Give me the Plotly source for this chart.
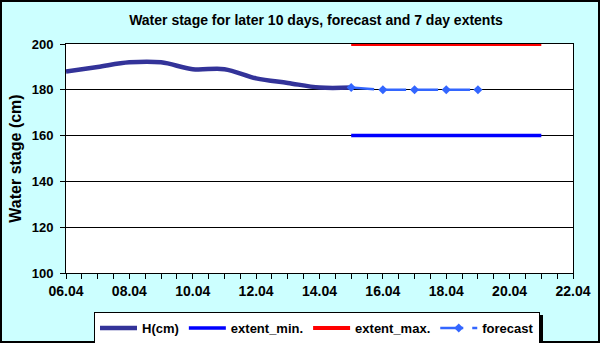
import plotly.graph_objects as go

# observed water stage, daily
h_days = ["2010-04-06", "2010-04-07", "2010-04-08", "2010-04-09", "2010-04-10",
          "2010-04-11", "2010-04-12", "2010-04-13", "2010-04-14", "2010-04-15"]
h_cm = [188, 190, 192, 192, 189, 189, 185, 183, 181, 181]

# 7 day extents
ext_days = ["2010-04-15", "2010-04-21"]
ext_min = [160, 160]
ext_max = [200, 200]

# forecast
fc_days = ["2010-04-15", "2010-04-16", "2010-04-17", "2010-04-18", "2010-04-19"]
fc_cm = [181, 180, 180, 180, 180]

font_family = "Liberation Sans, Arial, sans-serif"
bg = "#CCFFFF"
W, H = 600, 343

fig = go.Figure()

fig.add_trace(go.Scatter(
    x=h_days, y=h_cm, name="H(cm)", mode="lines",
    line=dict(color="#333399", width=4.5, shape="spline"),
))
fig.add_trace(go.Scatter(
    x=ext_days, y=ext_min, name="extent_min.", mode="lines",
    line=dict(color="#0000FF", width=3.5),
))
fig.add_trace(go.Scatter(
    x=ext_days, y=ext_max, name="extent_max.", mode="lines",
    line=dict(color="#FF0000", width=4),
))
fig.add_trace(go.Scatter(
    x=fc_days, y=fc_cm, name="forecast", mode="lines+markers",
    line=dict(color="#3366FF", width=2.5, dash="23px,9px"),
    marker=dict(symbol="diamond", size=7, color="#3366FF"),
))

fig.update_layout(
    width=W, height=H,
    margin=dict(l=66, r=27, t=44, b=70, autoexpand=False),
    paper_bgcolor=bg,
    plot_bgcolor="white",
    font=dict(family=font_family, color="black", size=13, weight="bold"),
    title=dict(
        text="Water stage for later 10 days, forecast and 7 day extents",
        x=316 / W, xref="container", xanchor="center",
        y=1 - 20 / H, yref="container", yanchor="middle",
        font=dict(size=14, weight="bold"),
    ),
    showlegend=True,
    legend=dict(
        orientation="h",
        x=94 / W, xref="container", xanchor="left",
        y=1 - 312 / H, yref="container", yanchor="top",
        bgcolor="white", bordercolor="black", borderwidth=1,
        font=dict(size=13, weight="bold"),
        itemwidth=37,
    ),
)

fig.update_xaxes(
    type="date",
    range=["2010-04-06", "2010-04-22"],
    dtick=2 * 86400000, tick0="2010-04-06",
    tickformat="%d.%m",
    ticks="outside", ticklen=5, tickcolor="black",
    minor=dict(dtick=43200000, ticks="outside", ticklen=5, tickcolor="black", showgrid=False),
    showline=True, linecolor="black", linewidth=1, mirror=True,
    showgrid=False,
    tickfont=dict(size=14, weight="bold"),
    layer="below traces",
    automargin=False,
)
fig.update_yaxes(
    range=[100, 200], dtick=20,
    ticks="outside", ticklen=5, tickcolor="black",
    showline=True, linecolor="black", linewidth=1, mirror=True,
    showgrid=True, gridcolor="black", gridwidth=1,
    zeroline=False,
    tickfont=dict(size=13, weight="bold"),
    ticklabelstandoff=4,
    title=dict(text="Water stage (cm)", font=dict(size=16, weight="bold"), standoff=6),
    layer="below traces",
    automargin=False,
)

# legend shadow and outer frame
fig.add_shape(type="rect", xref="paper", yref="paper", layer="above",
              x0=(97 - 66) / 507, x1=(543 - 66) / 507,
              y0=(273 - 342) / 229, y1=(273 - 315) / 229,
              fillcolor="black", line=dict(width=0))
fig.add_shape(type="rect", xref="paper", yref="paper", layer="above",
              x0=(1 - 66) / 507, x1=(599 - 66) / 507,
              y0=(273 - 342) / 229, y1=(273 - 1) / 229,
              line=dict(color="black", width=2))

fig.write_html("out.html", config={"displayModeBar": False},
               post_script="document.body.style.margin='0';")
